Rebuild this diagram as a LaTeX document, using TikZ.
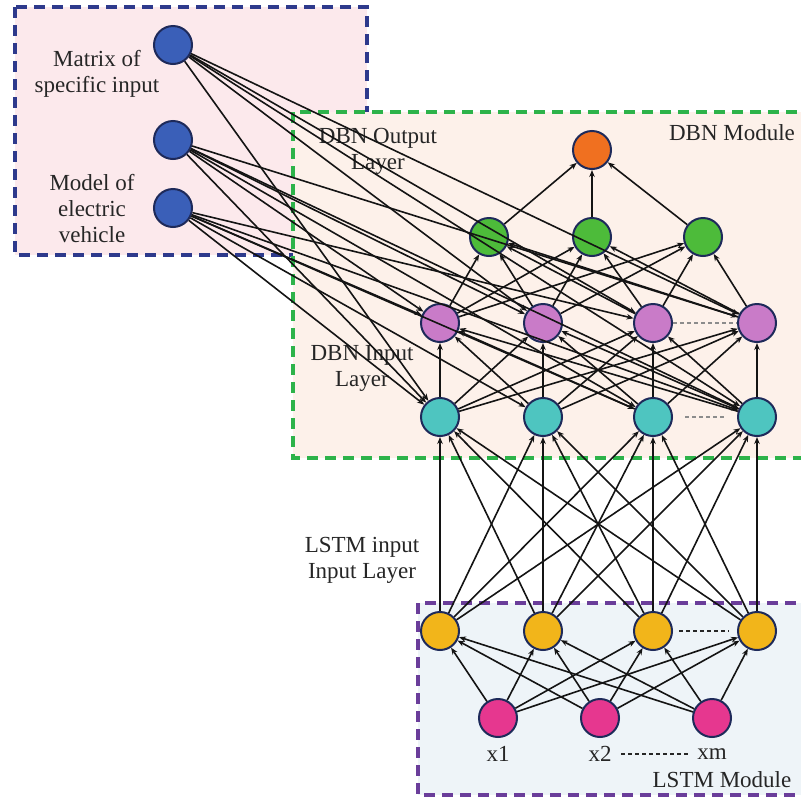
\documentclass[tikz,border=0pt]{standalone}
\usepackage{fontspec}
\setmainfont{Liberation Serif}
\usetikzlibrary{arrows.meta}
\definecolor{bluefill}{HTML}{FCE9EC}
\definecolor{bluebd}{HTML}{2E3A8C}
\definecolor{greenfill}{HTML}{FDF1EA}
\definecolor{greenbd}{HTML}{2DB34A}
\definecolor{purfill}{HTML}{EEF4F8}
\definecolor{purbd}{HTML}{6A3D9A}
\definecolor{ncol}{HTML}{1E2A5A}
\definecolor{nblue}{HTML}{3A5FB8}
\definecolor{norange}{HTML}{F07020}
\definecolor{ngreen}{HTML}{4DBB3A}
\definecolor{npink}{HTML}{C97BC8}
\definecolor{ncyan}{HTML}{4EC5C0}
\definecolor{nyellow}{HTML}{F2B51A}
\definecolor{nmag}{HTML}{E6378F}
\definecolor{txtcol}{HTML}{262626}
\begin{document}
\begin{tikzpicture}[x=1pt,y=-1pt,
  neuron/.style={circle, draw=ncol, line width=2pt, minimum size=38pt, inner sep=0pt},
  conn/.style={line width=1.6pt, draw=black!92, -{Stealth[length=7pt,width=5.5pt]}},
  lbl/.style={font=\fontsize{23}{26}\selectfont, align=center, text=txtcol},
  boxline/.style={line width=3.4pt, dash pattern=on 11pt off 7pt},
  gapdash/.style={line width=1.2pt, dash pattern=on 4pt off 3pt}]
\useasboundingbox (0,0) rectangle (801,801);
% boxes
\filldraw[fill=bluefill, draw=bluebd, boxline] (15,7) rectangle (367,255);
\filldraw[fill=greenfill, draw=greenbd, boxline] (293,112) rectangle (820,458);
\filldraw[fill=purfill, draw=purbd, boxline] (418,603) rectangle (820,795);
% labels
\node[lbl] (tmat) at (97,74) {Matrix of\\specific input};
\node[lbl] (tmod) at (92,209) {Model of\\electric\\vehicle};
\node[lbl] (tdbo) at (378,151) {DBN Output\\Layer};
\node[lbl] (tdbm) at (732,133) {DBN Module};
\node[lbl] (tdbi) at (362,368) {DBN Input\\Layer};
\node[lbl] (tlsi) at (362,560) {LSTM input\\Input Layer};
\node[lbl] (tlsm) at (722,780) {LSTM Module};
% neurons
\node[neuron, fill=nblue] (b1) at (173,45) {};
\node[neuron, fill=nblue] (b2) at (173,140) {};
\node[neuron, fill=nblue] (b3) at (173,208) {};
\node[neuron, fill=norange] (o1) at (592,150) {};
\node[neuron, fill=ngreen] (g1) at (489,237) {};
\node[neuron, fill=ngreen] (g2) at (592,237) {};
\node[neuron, fill=ngreen] (g3) at (703,237) {};
\foreach \i/\x in {1/440,2/543,3/653,4/757}{
  \node[neuron, fill=npink] (p\i) at (\x,323) {};
  \node[neuron, fill=ncyan] (c\i) at (\x,417) {};
  \node[neuron, fill=nyellow] (y\i) at (\x,631) {};
}
\node[neuron, fill=nmag] (m1) at (498,718) {};
\node[neuron, fill=nmag] (m2) at (600,718) {};
\node[neuron, fill=nmag] (m3) at (712,718) {};
\node[lbl] (x1) at (498,754) {x1};
\node[lbl] (x2) at (600,754) {x2};
\node[lbl] (xm) at (712,754) {xm};
% gap dashes
\draw[gapdash, draw=black!45] (p3) -- (p4);
\draw[gapdash, draw=black!45, shorten <=12pt, shorten >=12pt] (c3) -- (c4);
\draw[gapdash, draw=black!85, line width=1.4pt, shorten <=6pt, shorten >=8pt] (y3) -- (y4);
\draw[gapdash, draw=black!85, shorten <=6pt, shorten >=6pt] (x2) -- (xm);
% connections
\foreach \i in {1,2,3}{\foreach \j in {1,2,3,4}{\draw[conn] (m\i) -- (y\j);}}
\foreach \i in {1,2,3,4}{\foreach \j in {1,2,3,4}{\draw[conn] (y\i) -- (c\j);}}
\foreach \i in {1,2,3,4}{\foreach \j in {1,2,3,4}{\draw[conn] (c\i) -- (p\j);}}
\foreach \i in {1,2,3,4}{\foreach \j in {1,2,3}{\draw[conn] (p\i) -- (g\j);}}
\foreach \j in {1,2,3}{\draw[conn] (g\j) -- (o1);}
\foreach \t in {p2,p3,p4,c1,c4}{\draw[conn] (b1) -- (\t);}
\foreach \t in {p1,p2,p4,c1,c3,c4}{\draw[conn] (b2) -- (\t);}
\foreach \t in {p1,p3,c1,c2,c3,c4}{\draw[conn] (b3) -- (\t);}
\end{tikzpicture}
\end{document}
